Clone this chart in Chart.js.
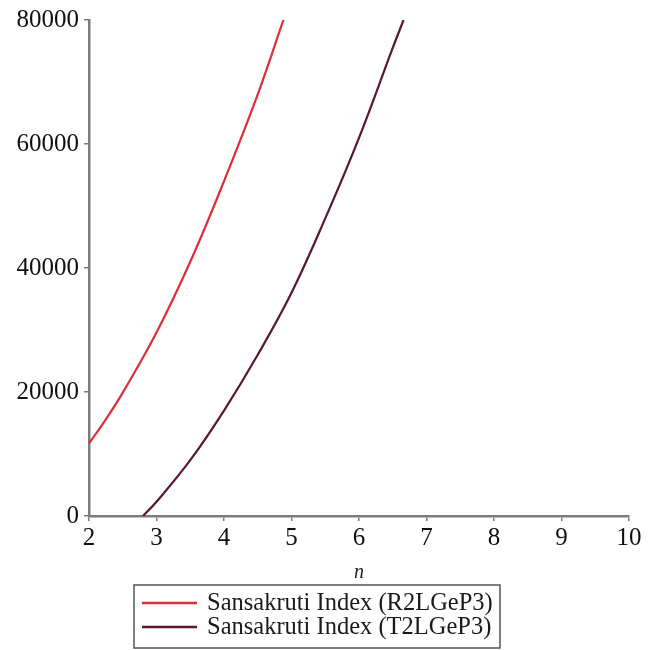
<!DOCTYPE html>
<html>
<head>
<meta charset="utf-8">
<script src="https://cdn.jsdelivr.net/npm/chart.js@4"></script>
<style>
  html, body { margin: 0; padding: 0; background: #fff; }
  #wrap { width: 659px; height: 650px; }
</style>
</head>
<body>
<div id="wrap"><canvas id="c" width="659" height="650"></canvas></div>
<script>
// ---- data ----
const seriesNames = ['Sansakruti Index (R2LGeP3)', 'Sansakruti Index (T2LGeP3)'];
const nR2L = [2, 2.25, 2.5, 3, 3.5, 4, 4.5, 4.88];
const vR2L = [11700, 15600, 19900, 29600, 41000, 54000, 68000, 80000];
const nT2L = [2.8, 3, 3.5, 4, 4.5, 5, 5.5, 6, 6.5, 6.66];
const vT2L = [0, 2300, 9000, 17000, 26000, 36000, 48000, 61000, 75500, 80000];
const xTicks = [2, 3, 4, 5, 6, 7, 8, 9, 10];
const yTicks = [0, 20000, 40000, 60000, 80000];
const xTitle = 'n';

const colors = ['#dc2f3a', '#5a1632'];
const pts = (xs, ys) => xs.map((x, i) => ({ x: x, y: ys[i] }));

const serif = '"Liberation Serif", "Times New Roman", serif';
const axisColor = '#7c7c7c';

const boxLegend = {
  id: 'boxLegend',
  afterDraw(chart, args, opts) {
    const ctx = chart.ctx;
    ctx.save();
    ctx.strokeStyle = '#555';
    ctx.lineWidth = 1.5;
    ctx.strokeRect(opts.left, opts.top, opts.width, opts.height);
    ctx.font = opts.fontSize + 'px ' + serif;
    ctx.textBaseline = 'middle';
    ctx.textAlign = 'left';
    chart.data.datasets.forEach((ds, i) => {
      const y = opts.firstRowY + i * opts.rowGap;
      ctx.strokeStyle = ds.borderColor;
      ctx.lineWidth = 2.5;
      ctx.beginPath();
      ctx.moveTo(opts.lineX0, y);
      ctx.lineTo(opts.lineX1, y);
      ctx.stroke();
      ctx.fillStyle = '#1a1a1a';
      ctx.fillText(ds.label, opts.textX, y + 1);
    });
    ctx.restore();
  }
};

new Chart(document.getElementById('c'), {
  type: 'scatter',
  data: {
    datasets: [
      { label: seriesNames[0], data: pts(nR2L, vR2L), borderColor: colors[0], backgroundColor: colors[0],
        showLine: true, pointRadius: 0, borderWidth: 2.2, tension: 0.4 },
      { label: seriesNames[1], data: pts(nT2L, vT2L), borderColor: colors[1], backgroundColor: colors[1],
        showLine: true, pointRadius: 0, borderWidth: 2.2, tension: 0.4 }
    ]
  },
  options: {
    responsive: false,
    animation: false,
    devicePixelRatio: 1,
    layout: { padding: { left: 0, right: 30, top: 18, bottom: 65 } },
    plugins: {
      legend: { display: false },
      tooltip: { enabled: false },
      boxLegend: { left: 134, top: 585, width: 366, height: 63, fontSize: 24.5,
                   firstRowY: 603, rowGap: 24, lineX0: 142, lineX1: 197, textX: 207 }
    },
    scales: {
      x: {
        type: 'linear', min: 2, max: 10,
        afterBuildTicks: (s) => { s.ticks = xTicks.map(v => ({ value: v })); },
        afterFit: (s) => { s.height = 69; },
        ticks: { color: '#111', font: { family: serif, size: 25 }, padding: 2, maxRotation: 0 },
        grid: { drawOnChartArea: false, drawTicks: true, tickLength: 5, color: axisColor, lineWidth: 1.5 },
        border: { display: true, color: axisColor, width: 2.5 },
        title: { display: true, text: xTitle, color: '#222', padding: { top: 0, bottom: 0 },
                 font: { family: serif, size: 20, style: 'italic' } }
      },
      y: {
        type: 'linear', min: 0, max: 80000,
        afterBuildTicks: (s) => { s.ticks = yTicks.map(v => ({ value: v })); },
        afterFit: (s) => { s.width = 89; },
        ticks: { color: '#111', font: { family: serif, size: 25 }, padding: 5,
                 callback: (v) => String(v) },
        grid: { drawOnChartArea: false, drawTicks: true, tickLength: 5, color: axisColor, lineWidth: 1.5 },
        border: { display: true, color: axisColor, width: 2.5 }
      }
    }
  },
  plugins: [boxLegend]
});
</script>
</body>
</html>
